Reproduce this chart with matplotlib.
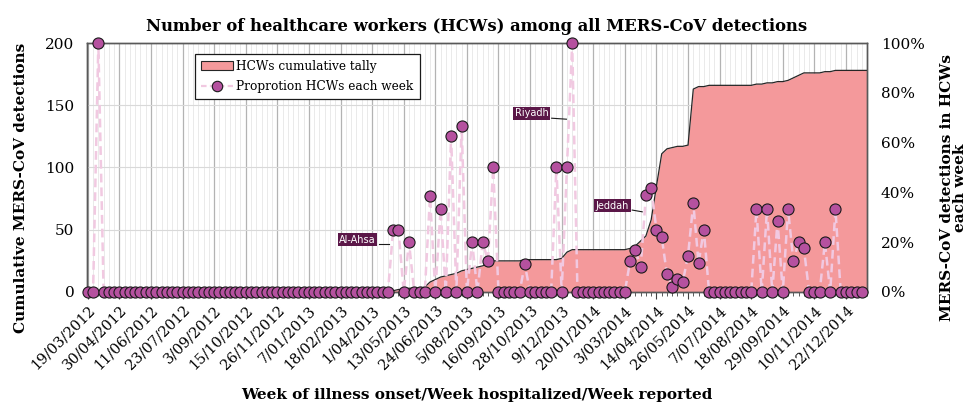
import matplotlib
matplotlib.use('Agg')
import matplotlib.pyplot as plt
import numpy as np
from matplotlib.patches import Patch
from matplotlib.lines import Line2D
from matplotlib.ticker import MultipleLocator, FixedLocator, PercentFormatter

# weekly categories, 19/03/2012 onwards (149 weeks)
tick_labels = ['19/03/2012', '30/04/2012', '11/06/2012', '23/07/2012', '3/09/2012',
               '15/10/2012', '26/11/2012', '7/01/2013', '18/02/2013', '1/04/2013',
               '13/05/2013', '24/06/2013', '5/08/2013', '16/09/2013', '28/10/2013',
               '9/12/2013', '20/01/2014', '3/03/2014', '14/04/2014', '26/05/2014',
               '7/07/2014', '18/08/2014', '29/09/2014', '10/11/2014', '22/12/2014']

# cumulative number of HCWs
hcw_cumulative = ([0] * 58 +
                  [1, 2, 2, 3, 3, 3, 4, 8, 10, 12, 13, 14, 15, 17, 18, 19, 20, 21, 23, 25] +
                  [25] * 5 + [26] * 7 + [27, 32, 34] + [34] * 10 +
                  [35, 37, 41, 45, 58, 85, 111, 115, 116, 117, 117, 118, 163, 165, 165] +
                  [166] * 9 +
                  [167, 167, 168, 168, 169, 169, 170, 172, 174, 176, 176, 176, 176, 177, 177] +
                  [178] * 7)

# proportion of detections that were HCWs each week (%)
hcw_proportion = ([0, 0, 100] + [0] * 55 +
                  [25, 25, 0, 20, 0, 0, 0, 38.5, 0, 33.3, 0, 62.5, 0, 66.7, 0, 20, 0, 20, 12.5, 50] +
                  [0] * 5 + [11.1] + [0] * 5 + [50, 0, 50, 100] + [0] * 10 +
                  [12.5, 16.7, 10, 38.8, 41.6, 25, 22, 7.1, 1.9, 5.1, 4, 14.6, 35.7, 11.5, 25] +
                  [0] * 9 +
                  [33.3, 0, 33.3, 0, 28.6, 0, 33.3, 12.5, 20, 17.6, 0, 0, 0, 20, 0, 33.3] +
                  [0] * 5 + [np.nan])

weeks = np.arange(len(hcw_cumulative))

area_color = '#f4999b'
marker_color = '#b5519f'
dash_color = '#f1c9e1'
label_bg = '#5b1748'
serif = 'DejaVu Serif'

fig = plt.figure(figsize=(9.68, 4.12), dpi=100)
ax = fig.add_axes([0.0899, 0.2913, 0.8058, 0.6043])
ax2 = ax.twinx()

ax.fill_between(weeks, hcw_cumulative, color=area_color, lw=0, zorder=2)
ax.plot(weeks, hcw_cumulative, color='#262626', lw=0.9, zorder=3)

ax2.plot(weeks, hcw_proportion, color=dash_color, lw=1.8, ls=(0, (3.5, 2)),
         marker='o', ms=8, mfc=marker_color, mec='#1a1a1a', mew=0.8, clip_on=False, zorder=4)

ax.set_xlim(-0.15, 148)
ax.set_ylim(0, 200)
ax2.set_ylim(0, 100)

ax.xaxis.set_major_locator(FixedLocator(np.arange(0, 145, 6)))
ax.set_xticklabels(tick_labels, rotation=45, ha='right', rotation_mode='anchor',
                   family=serif, fontsize=10.5)
ax.xaxis.set_minor_locator(MultipleLocator(1))
ax.tick_params(axis='x', which='major', length=5, color='#404040', pad=3)
ax.tick_params(axis='x', which='minor', length=3, color='#404040')

ax.yaxis.set_major_locator(MultipleLocator(50))
ax.tick_params(axis='y', length=0, pad=9, labelsize=11)
for t in ax.get_yticklabels():
    t.set_family(serif)
ax2.yaxis.set_major_locator(MultipleLocator(20))
ax2.yaxis.set_major_formatter(PercentFormatter(decimals=0))
ax2.tick_params(axis='y', length=0, pad=10, labelsize=11)
for t in ax2.get_yticklabels():
    t.set_family(serif)

ax.set_axisbelow(True)
ax.grid(axis='y', color='#d9d9d9', lw=0.8)
ax.grid(axis='x', which='major', color='#b3b3b3', lw=0.9)
ax.grid(axis='x', which='minor', color='#e6e6e6', lw=0.6)

for a in (ax, ax2):
    for s in a.spines.values():
        s.set_color('#595959')
        s.set_linewidth(1.0)

ax.set_title('Number of healthcare workers (HCWs) among all MERS-CoV detections',
             family=serif, fontweight='bold', fontsize=11.8, pad=9)
ax.set_ylabel('Cumulative MERS-CoV detections', family=serif,
              fontweight='bold', fontsize=11)
ax.yaxis.set_label_coords(-0.076, 0.42)
ax2.set_ylabel('MERS-CoV detections in HCWs\neach week', family=serif,
               fontweight='bold', fontsize=11, linespacing=0.95)
ax2.yaxis.set_label_coords(1.093, 0.42)
ax.set_xlabel('Week of illness onset/Week hospitalized/Week reported',
              family=serif, fontweight='bold', fontsize=11)
ax.xaxis.set_label_coords(0.5, -0.385)

# city call-outs
callouts = [('Al-Ahsa', 55.3, 21.0, [55.3, 57.2], [19.2, 19.2]),
            ('Riyadh', 88.1, 71.7, [88.1, 90.9], [69.8, 69.4]),
            ('Jeddah', 103.4, 34.7, [103.4, 105.3], [32.9, 32.2])]
for name, x, y, lx, ly in callouts:
    ax2.text(x - 0.6, y, name, ha='right', va='center', color='white', fontsize=7,
             family='DejaVu Sans', zorder=6,
             bbox=dict(boxstyle='square,pad=0.15', fc=label_bg, ec='none'))
    ax2.plot(lx, ly, color='#1a1a1a', lw=0.8, zorder=6)

handles = [Patch(facecolor=area_color, edgecolor='#262626', lw=0.8),
           Line2D([], [], color=dash_color, lw=1.6, ls=(0, (2.5, 1.5)), marker='o', ms=7.5,
                  mfc=marker_color, mec='#1a1a1a', mew=0.8)]
leg = ax2.legend(handles, ['HCWs cumulative tally', 'Proprotion HCWs each week'],
                 loc='upper left', bbox_to_anchor=(0.131, 0.982), fancybox=False,
                 framealpha=1, edgecolor='#1a1a1a', handlelength=2.6,
                 prop={'family': serif, 'size': 8.7}, borderpad=0.5,
                 labelspacing=0.6, handletextpad=0.3)
leg.get_frame().set_linewidth(0.9)
leg.set_zorder(7)

fig.savefig('out.png', dpi=100)
